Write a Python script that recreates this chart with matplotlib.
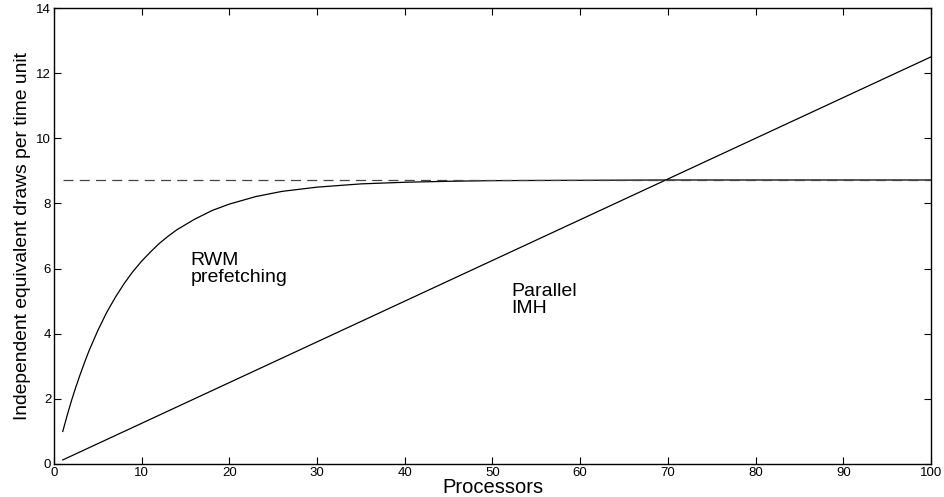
# -*- coding: utf-8 -*-
'''
Throughput of RWM prefetching vs parallel IMH against number of processors
'''
import numpy as np
import matplotlib as mpl
import matplotlib.pyplot as plt

mpl.rcParams['font.family'] = ['Liberation Sans', 'DejaVu Sans']
mpl.rcParams['xtick.direction'] = 'in'
mpl.rcParams['ytick.direction'] = 'in'
mpl.rcParams['xtick.top'] = True
mpl.rcParams['ytick.right'] = True

# RWM prefetching curve
rwm_x = [1, 1.5, 2, 2.5, 3, 3.5, 4, 5, 6, 7, 8, 9, 10, 11, 12, 13, 14, 16, 18, 20, 23, 26, 30, 35, 40, 45, 50,
         60, 70, 80, 100]
rwm_y = [1.00, 1.49, 1.95, 2.37, 2.76, 3.13, 3.48, 4.10, 4.65, 5.12, 5.54, 5.91, 6.23, 6.51, 6.77, 6.99,
         7.19, 7.51, 7.78, 7.98, 8.21, 8.37, 8.50, 8.60, 8.65, 8.68, 8.70, 8.71, 8.72, 8.72, 8.72]
# parallel IMH, linear in processors
imh_x = [1, 100]
imh_y = [0.125, 12.5]
# asymptote of prefetching
limit_x = [1, 100]
limit_y = [8.73, 8.73]

fig = plt.figure(figsize=(9.44, 4.97), dpi=100)
ax = fig.add_axes([0.0572, 0.0664, 0.929, 0.9175])

ax.plot(rwm_x, rwm_y, color='black', linewidth=0.9)
ax.plot(imh_x, imh_y, color='black', linewidth=0.9)
ax.plot(limit_x, limit_y, color='#444444', linewidth=0.9, linestyle=(0, (8, 5)))

ax.text(15.6, 6.5, 'RWM\nprefetching', fontsize=14, va='top', ha='left', linespacing=1.0)
ax.text(52.1, 5.55, 'Parallel\nIMH', fontsize=14, va='top', ha='left', linespacing=1.0)

ax.set_xlim([0, 100])
ax.set_ylim([0, 14])
ax.set_xticks(np.arange(0, 101, 10))
ax.set_yticks(np.arange(0, 15, 2))
ax.tick_params(labelsize=9.5, length=5, width=0.8, pad=2)
for s in ax.spines.values():
    s.set_linewidth(1.0)

ax.set_xlabel('Processors', fontsize=14.5)
ax.xaxis.set_label_coords(0.5, -0.031)
ax.set_ylabel('Independent equivalent draws per time unit', fontsize=13.9,
              family=['Liberation Sans Narrow', 'Liberation Sans', 'DejaVu Sans'], labelpad=4)

fig.savefig('out.png', dpi=100)
